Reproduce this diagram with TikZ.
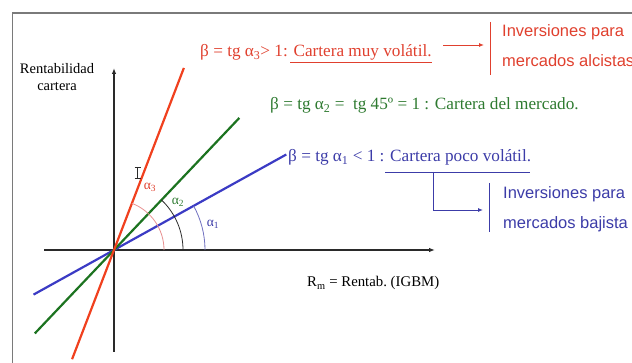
\documentclass[tikz,border=0pt]{standalone}
\usepackage{fontspec}
\setmainfont{Liberation Serif}
\newfontfamily\arialf{Liberation Sans}
\usetikzlibrary{arrows.meta}
\definecolor{redline}{HTML}{F0401E}
\definecolor{redtext}{HTML}{E0402E}
\definecolor{arcred}{HTML}{E89090}
\definecolor{greenline}{HTML}{1C7320}
\definecolor{greentext}{HTML}{2E7A30}
\definecolor{blueline}{HTML}{3B3BC4}
\definecolor{bluetext}{HTML}{3C3CA8}
\definecolor{arcblue}{HTML}{7070C0}
\definecolor{framegray}{HTML}{7A7A7A}
\definecolor{axisgray}{HTML}{2A2A2A}
\begin{document}
\begin{tikzpicture}[x=1pt,y=-1pt,
  axis/.style={axisgray,line width=1.1pt,-{Latex[length=6pt,width=4.5pt]}},
  betaline/.style={line width=2.2pt},
  anglearc/.style={line width=0.8pt},
  formula/.style={anchor=base west,inner sep=0pt,font=\fontsize{17.2}{20}\selectfont},
  sanslabel/.style={anchor=base west,inner sep=0pt,font=\arialf\fontsize{16.5}{20}\selectfont},
  axislabel/.style={anchor=base,inner sep=0pt,font=\fontsize{14.5}{17}\selectfont},
  alphalabel/.style={inner sep=0pt,font=\fontsize{13.5}{15}\selectfont},
  connector/.style={line width=0.9pt},
  bracketbar/.style={line width=0.9pt}]
\useasboundingbox (0,0) rectangle (632,363);
% frame
\draw[framegray,line width=1.5pt] (12.5,363) -- (12.5,13) -- (632,13);
% axes
\coordinate (O) at (114,250);
\coordinate (ybot) at (114,352);
\coordinate (ytop) at (114,68);
\coordinate (xl) at (44,250);
\coordinate (xr) at (435,250);
\draw[axis] (ybot) -- (ytop);
\draw[axis] (xl) -- (xr);
% beta lines
\draw[betaline,blueline] (O) ++(151:92) coordinate (b1) -- (O) -- ++(-29:197) coordinate (b2);
\draw[betaline,greenline] (O) ++(133.5:115) coordinate (g1) -- (O) -- ++(-46.5:182) coordinate (g2);
\draw[betaline,redline] (O) ++(111:117) coordinate (r1) -- (O) -- ++(-69:195) coordinate (r2);
% arcs
\draw[anglearc,arcred] (O) ++(50,0) arc[start angle=0,end angle=-69,radius=50];
\draw[anglearc,axisgray] (O) ++(69,0) arc[start angle=0,end angle=-46.5,radius=69];
\draw[anglearc,arcblue] (O) ++(91,0) arc[start angle=0,end angle=-29,radius=91];
% alpha labels
\node[alphalabel,text=redtext] (a3) at (150,187) {α\textsubscript{3}};
\node[alphalabel,text=greentext] (a2) at (178,202) {α\textsubscript{2}};
\node[alphalabel,text=bluetext] (a1) at (213,224) {α\textsubscript{1}};
% cursor I-beam
\draw[axisgray,line width=0.8pt] (134.5,167) -- (140.5,167) (137.5,167) -- (137.5,178) (134.5,178) -- (140.5,178);
% axis labels
\node[axislabel] (yl1) at (57,74) {Rentabilidad};
\node[axislabel] (yl2) at (57,91) {cartera};
\node[anchor=base west,inner sep=0pt,font=\fontsize{14.8}{17}\selectfont] (xlab) at (307,287) {R\textsubscript{m} = Rentab.\ (IGBM)};
% red formula
\node[formula,text=redtext] (rt) at (200,57) {β = tg α\textsubscript{3}> 1: Cartera muy volátil.};
\coordinate (ru1) at (290,62.5);
\coordinate (ru2) at (432,62.5);
\draw[redtext,line width=0.9pt] (ru1) -- (ru2);
\coordinate (ra1) at (443,45);
\coordinate (ra2) at (484,45);
\draw[connector,redtext,-{Latex[length=5pt,width=4pt]}] (ra1) -- (ra2);
\coordinate (rb1) at (490,22);
\coordinate (rb2) at (490,75);
\draw[bracketbar,redtext] (rb1) -- (rb2);
\node[sanslabel,text=redtext] (ri1) at (502,37) {Inversiones para};
\node[sanslabel,text=redtext] (ri2) at (502,67) {mercados alcistas};
% green formula
\node[formula,text=greentext] (gt) at (270,110) {β = tg α\textsubscript{2} = \ tg 45º = 1 : Cartera del mercado.};
% blue formula
\node[formula,text=bluetext] (bt) at (288,162) {β = tg α\textsubscript{1} < 1 : Cartera poco volátil.};
\coordinate (bu1) at (385,172);
\coordinate (bu2) at (530,172);
\draw[bluetext,line width=0.9pt] (bu1) -- (bu2);
\coordinate (bc1) at (433,172);
\coordinate (bc2) at (483,210);
\draw[connector,bluetext,-{Latex[length=5pt,width=4pt]}] (bc1) |- (bc2);
\coordinate (bb1) at (489,183);
\coordinate (bb2) at (489,232);
\draw[bracketbar,bluetext] (bb1) -- (bb2);
\node[sanslabel,text=bluetext] (bi1) at (503,199) {Inversiones para};
\node[sanslabel,text=bluetext] (bi2) at (503,229) {mercados bajista};
\end{tikzpicture}
\end{document}
